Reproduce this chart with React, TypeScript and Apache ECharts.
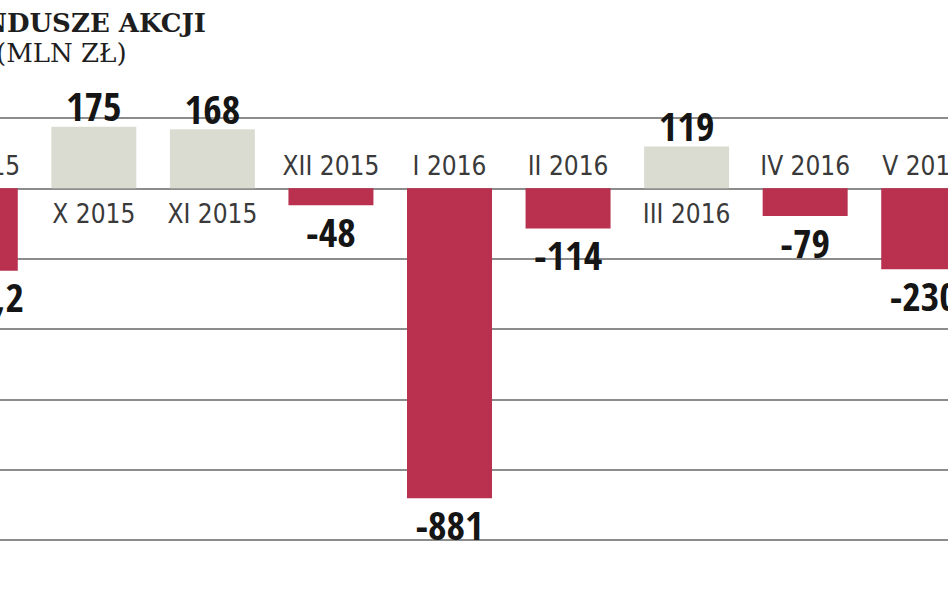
import React, { useEffect, useRef } from "react";
import * as echarts from "echarts";

const categories = ["IX 2015", "X 2015", "XI 2015", "XII 2015", "I 2016", "II 2016", "III 2016", "IV 2016", "V 2016"];
const values = [-234.2, 175, 168, -48, -881, -114, 119, -79, -230];
const yTicks = { min: -1000, max: 200, interval: 200 };
const titleLines = ["FUNDUSZE AKCJI", "(MLN ZŁ)"];

const NEG = "#b9314f";
const POS = "#dbdcd1";
const CAT_FONT = "'DejaVu Sans Condensed', 'Liberation Sans Narrow', sans-serif";
const VAL_FONT = "'Open Sans Condensed', 'DejaVu Sans Condensed', sans-serif";

// viewport geometry: category band 118.5px, first category centre at -24.5px
const OFFSET_X = -84;
const CHART_W = 1067;

export default function App() {
  const ref = useRef<HTMLDivElement>(null);
  useEffect(() => {
    if (!ref.current) return;
    const chart = echarts.init(ref.current, undefined, { renderer: "svg" });
    const fmt = (v: number) => String(v).replace(".", ",");
    chart.setOption({
      animation: false,
      backgroundColor: "#ffffff",
      grid: { left: 0, right: 0, top: 118, bottom: 53, containLabel: false },
      xAxis: {
        type: "category",
        data: categories,
        axisLine: { show: false },
        axisTick: { show: false },
        axisLabel: { show: false },
        splitLine: { show: false },
      },
      yAxis: {
        type: "value",
        min: yTicks.min,
        max: yTicks.max,
        interval: yTicks.interval,
        axisLine: { show: false },
        axisTick: { show: false },
        axisLabel: { show: false },
        splitLine: { show: true, lineStyle: { color: "#8c8c8c", width: 2 } },
      },
      graphic: [
        {
          type: "text",
          left: 26,
          top: 10,
          style: {
            text: titleLines[0],
            fill: "#1e1e1e",
            font: "bold 26px 'DejaVu Serif', serif",
            lineHeight: 26,
          },
          silent: true,
          z: 10,
        },
        {
          type: "text",
          left: 80,
          top: 40,
          style: {
            text: titleLines[1],
            fill: "#1e1e1e",
            font: "26px 'DejaVu Serif', serif",
            lineHeight: 26,
          },
          silent: true,
          z: 10,
        },
      ],
      series: [
        {
          type: "bar",
          barWidth: 85,
          barGap: "-100%",
          z: 2,
          data: values.map((v) => ({
            value: v,
            itemStyle: { color: v < 0 ? NEG : POS },
            label: {
              show: true,
              position: v < 0 ? "bottom" : "top",
              distance: v < 0 ? 6 : 1,
              formatter: () => fmt(v),
              color: "#151515",
              fontFamily: VAL_FONT,
              fontWeight: "bold",
              fontSize: 40,
            },
          })),
        },
        {
          type: "bar",
          barWidth: 85,
          barGap: "-100%",
          z: 3,
          data: values.map((v, i) => ({
            value: 0,
            itemStyle: { color: "rgba(0,0,0,0)" },
            label: {
              show: true,
              position: v < 0 ? "top" : "bottom",
              distance: v < 0 ? 9 : 13,
              formatter: () => categories[i],
              color: "#3a3a3a",
              fontFamily: CAT_FONT,
              fontSize: 26,
            },
          })),
        },
      ],
    });
    return () => chart.dispose();
  }, []);
  return (
    <div style={{ position: "fixed", left: 0, top: 0, width: 948, height: 593, overflow: "hidden", background: "#fff" }}>
      <div ref={ref} style={{ position: "absolute", left: OFFSET_X, top: 0, width: CHART_W, height: 593 }} />
    </div>
  );
}
